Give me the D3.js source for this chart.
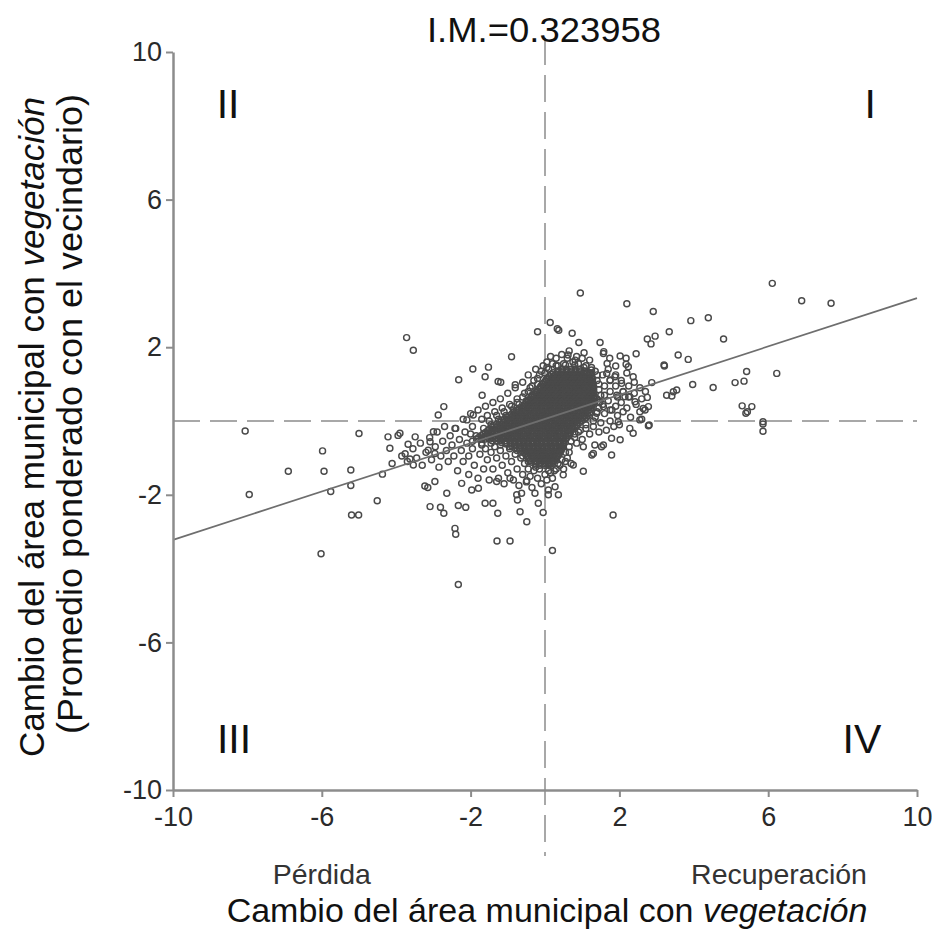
<!DOCTYPE html>
<html><head><meta charset="utf-8">
<script src="https://cdn.jsdelivr.net/npm/d3@7"></script>
<style>
body{margin:0;background:#fff}
svg{display:block}
text{font-family:"Liberation Sans",Arial,Helvetica,sans-serif}
</style>
</head><body>
<svg id="c" width="932" height="940"></svg>
<script>
// ---- data ----
const xTicks = [-10, -6, -2, 2, 6, 10];
const yTicks = [10, 6, 2, -2, -6, -10];
const chartTitle = "I.M.=0.323958";
const quadrantLabels = [["II", -8.52, 8.2], ["I", 8.74, 8.2], ["III", -8.36, -9.0], ["IV", 8.52, -9.0]];
const trendX = [-10, 10];
const trendY = [-3.22, 3.33];

// isolated / readable points
const outliers = [
[-3.72,2.26],[-3.54,1.92],[-8.06,-0.27],[-5.0,-0.34],[-4.22,-0.43],[-3.95,-0.39],[-3.49,-0.43],[-5.98,-0.81],
[-4.17,-0.74],[-3.68,-0.63],[-3.76,-0.89],[-3.63,-1.03],[-4.11,-1.15],[-3.54,-1.19],[-6.9,-1.36],[-5.94,-1.36],
[-5.22,-1.33],[-4.37,-1.44],[-7.95,-1.99],[-5.76,-1.91],[-5.22,-1.75],[-4.51,-2.16],[-5.2,-2.55],[-5.01,-2.55],
[-6.02,-3.6],[-3.23,-1.76],[-3.15,-1.8],[-3.09,-2.32],[-2.33,-4.43],[-3.9,-0.33],
[-2.72,0.39],[-2.87,0.16],[-3.0,-0.29],[-3.09,-0.56],[-3.14,-0.79],[-2.96,-0.88],[-2.96,-1.64],[-2.64,-1.96],
[-2.42,-0.2],[-2.1,0.03],[-1.93,0.16],
[6.11,3.73],[6.9,3.26],[7.69,3.19],[2.91,2.97],[3.92,2.72],[4.39,2.8],[3.34,2.42],[2.75,2.22],[2.96,2.3],
[2.85,2.09],[4.8,2.22],[3.58,1.79],[3.85,1.67],[3.21,1.49],[2.87,1.04],[5.42,1.34],[5.35,1.08],[5.11,1.04],
[6.23,1.29],[3.97,0.99],[4.52,0.91],[3.27,0.7],[3.41,0.68],[3.54,0.84],[3.45,0.79],[5.3,0.41],[5.56,0.39],
[5.4,0.21],[5.44,0.25],[5.86,-0.02],[5.86,-0.08],[5.86,-0.28],[2.75,0.64],[2.78,0.39],[2.69,0.3],[2.6,0.05],
[2.78,-0.13],
[1.48,2.13],[1.57,1.83],[2.02,1.76],[2.18,1.7],[2.45,1.82],[1.67,1.56],[1.9,1.49],[2.18,1.54],[3.2,1.52],
[2.37,1.2],[2.06,1.02],[1.66,1.29],[1.75,1.11],[1.88,1.2],[2.64,0.34],[2.42,0.52],[2.28,0.66],[2.1,0.79],
[2.15,0.66],[1.93,0.7],[2.55,0.03],[2.8,-0.11],[1.97,-0.02],[2.28,-0.2],[2.37,-0.33],[1.79,-0.47],[2.02,-0.51],
[1.57,-0.65],[1.34,-0.65],[1.3,-0.88],[1.75,0.3],[1.57,0.39],[1.39,0.21],[1.48,0.52],[1.3,0.52],
[0.95,3.47],[2.2,3.18],[0.14,2.67],[0.37,2.46],[0.33,2.5],[-0.2,2.42],[0.73,2.38],[0.91,2.13],
[-0.9,1.74],[-1.94,1.41],[-1.52,1.46],[-1.61,1.2],[-2.32,1.12],[-1.19,1.05],[-0.8,0.98],[-1.69,0.7],
[-1.26,1.07],[0.62,1.79],[0.81,1.65],[1.58,1.88],[1.74,1.7],[2.24,1.47],
[1.03,-1.36],[1.83,-2.55],[0.2,-3.51],[-1.29,-3.25],[-0.94,-3.25],[-2.42,-2.91],[-2.4,-3.07],
[-2.81,-2.34],[-2.72,-2.5],[-2.33,-2.29],[-2.13,-2.34],[-1.61,-2.23],[-1.4,-2.23],[-1.27,-2.5],
[-0.67,-2.46],[-0.49,-2.73],[-0.18,-2.23],[-0.05,-2.48],[-0.74,-2.14],[-0.76,-2.0],[-0.63,-1.96],
[-0.27,-1.96],[0.09,-2.0],[0.09,-1.87],[0.27,-1.78],[0.36,-2.0],[-0.49,-1.62],[-0.94,-1.55],[-1.3,-1.64],
[0.49,-1.46],[0.76,-1.19],[-2.24,-1.69],[-1.97,-1.87],[-1.79,-1.82],
[1.52,-0.7],[1.79,-0.92],[1.03,-0.7],[1.26,-0.92]
];

// moderately dense ring of points around the core
const halo = [
[-3.85,-0.95],[-3.7,-1.1],[-3.55,-0.75],[-3.45,-1.0],[-3.35,-0.6],[-3.3,-1.2],[-3.2,-0.85],[-3.1,-0.45],
[-3.05,-1.05],[-2.95,-0.7],[-2.9,-0.3],[-2.85,-1.25],[-2.8,-0.95],[-2.75,-0.55],[-2.7,-0.15],[-2.65,-0.8],
[-2.6,-1.1],[-2.55,-0.4],[-2.5,-0.65],[-2.45,-0.95],[-2.4,-0.2],[-2.35,-1.35],[-2.3,-0.5],[-2.25,-0.8],
[-2.2,-1.1],[-2.2,0.05],[-2.15,-0.3],[-2.1,-0.6],[-2.05,-1.45],[-2.05,-0.95],[-2.0,0.2],[-1.95,-0.15],
[-1.95,-0.75],[-1.9,-1.2],[-1.85,-0.4],[-1.8,0.3],[-1.8,-1.55],[-1.75,-0.9],[-1.7,0.05],[-1.7,-0.65],
[-1.65,-1.3],
[-1.6,-0.75],[-1.55,-1.05],[-1.5,-1.6],[-1.45,-0.85],[-1.4,-1.3],[-1.35,-0.7],[-1.3,-1.0],[-1.25,-1.55],
[-1.2,-0.8],[-1.15,-1.2],[-1.1,-1.7],[-1.05,-0.95],[-1.0,-1.4],[-0.95,-0.75],[-0.9,-1.1],[-0.85,-1.6],
[-0.8,-0.9],[-0.75,-1.3],[-0.7,-1.75],[-0.65,-1.0],[-0.6,-1.45],[-0.55,-1.15],[-0.5,-1.65],[-0.45,-1.3],
[-0.4,-1.5],[-0.35,-1.8],[-0.3,-1.35],[-0.2,-1.55],[-0.15,-1.3],[-0.1,-1.7],[0.0,-1.45],[0.05,-1.6],
[0.15,-1.4],[0.2,-1.55],[0.3,-1.3],[0.35,-1.15],[0.45,-1.05],[0.5,-1.3],[0.55,-0.85],[0.6,-1.0],
[0.65,-0.7],[0.7,-1.15],
[-1.6,0.4],[-1.55,0.15],[-1.45,-0.1],[-1.4,0.5],[-1.35,0.25],[-1.25,0.05],[-1.2,0.6],[-1.15,0.35],
[-1.05,0.15],[-1.0,0.75],[-0.95,0.45],[-0.85,0.3],[-0.8,0.9],[-0.75,0.6],[-0.7,0.45],[-0.6,1.05],
[-0.55,0.75],[-0.5,0.55],[-0.45,1.25],[-0.4,0.9],[-0.35,0.7],[-0.3,1.1],[-0.25,1.4],[-0.2,1.0],
[-0.15,1.25],[-0.05,1.5],[0.0,1.3],[0.05,1.6],[0.1,1.4],[0.2,1.55],[0.15,1.75],[0.3,1.7],
[0.35,1.5],[0.45,1.8],[0.5,1.55],[0.6,1.7],[0.65,1.9],[0.75,1.6],[0.85,1.75],[0.9,1.55],
[1.0,1.7],[1.05,1.85],[1.1,1.5],[1.2,1.65],[1.25,1.45],
[1.35,1.35],[1.4,1.1],[1.45,0.85],[1.4,0.6],[1.45,0.35],[1.35,0.1],[1.3,-0.15],[1.2,-0.35],
[1.1,-0.2],[1.0,-0.5],[0.9,-0.3],[0.85,-0.6],[0.8,-0.45],[1.55,1.25],[1.6,0.95],[1.6,0.7],
[1.55,0.45],[1.6,0.2],[1.5,-0.05],[1.45,-0.3],[1.7,1.4],[1.75,1.1],[1.75,0.8],[1.7,0.55],
[1.8,0.3],[1.75,0.0],[1.65,-0.25],[1.9,1.25],[1.9,0.95],[1.95,0.65],[1.9,0.4],[1.95,0.15],
[1.85,-0.15],[2.05,1.1],[2.1,0.8],[2.05,0.5],[2.1,0.25],[2.0,-0.1],[2.2,1.3],[2.25,0.95],
[2.25,0.65],[2.2,0.35],[2.3,0.1],[2.4,1.05],[2.4,0.75],[2.45,0.45],[2.55,0.9],[2.6,0.6],
[2.55,0.25],[2.7,0.8]
];

// points hugging the edge of the solid core
const haloInner = [
[-1.5,0.0],[-1.3,0.15],[-1.1,0.25],[-0.9,0.4],[-0.75,0.5],[-0.6,0.65],[-0.45,0.8],[-0.35,0.95],
[-0.2,1.15],[-0.1,1.35],[0.05,1.45],[-1.65,-0.2],[-1.0,0.05],[-0.8,0.2],
[1.4,1.25],[1.45,1.0],[1.5,0.7],[1.45,0.5],[1.4,0.25],[1.3,0.0],[1.1,-0.1],[0.95,-0.25],
[0.8,-0.35],[0.7,-0.55],[0.65,-0.85],[0.55,-1.1],[0.4,-1.2],[0.25,-1.35],[0.1,-1.35],
[-0.25,-1.25],[-0.45,-1.1],[-0.6,-0.95],[-0.75,-0.8],[-0.95,-0.7],[-1.2,-0.65],[-1.45,-0.6],
[-1.7,-0.6],[-1.95,-0.55],[-2.0,-0.35],
[0.3,1.5],[0.55,1.52],[0.8,1.52],[1.05,1.45],[1.25,1.38]
];

// solid core: rows of heavily overlapping points [y, [x...]]
const coreRows = [
[1.40,[0.46,0.57,0.70,0.81,0.93]],
[1.355,[0.35,0.47,0.59,0.71,0.83,0.95,1.07]],
[1.31,[0.22,0.34,0.45,0.58,0.69,0.80,0.93,1.04,1.14,1.23]],
[1.265,[0.17,0.29,0.41,0.53,0.65,0.77,0.89,1.00,1.12,1.22]],
[1.22,[0.12,0.23,0.36,0.48,0.59,0.70,0.83,0.95,1.06,1.17,1.26]],
[1.175,[0.08,0.20,0.32,0.44,0.56,0.68,0.80,0.92,1.04,1.16,1.25]],
[1.13,[0.04,0.17,0.28,0.40,0.51,0.64,0.75,0.86,0.99,1.10,1.21,1.28]],
[1.085,[0.01,0.13,0.25,0.37,0.49,0.61,0.73,0.85,0.97,1.09,1.21,1.27]],
[1.04,[-0.03,0.09,0.22,0.33,0.45,0.56,0.69,0.80,0.93,1.04,1.15,1.27]],
[0.995,[-0.07,0.05,0.17,0.29,0.41,0.53,0.65,0.77,0.89,1.01,1.13,1.25]],
[0.95,[-0.11,0.02,0.13,0.24,0.37,0.49,0.60,0.72,0.85,0.96,1.07,1.19,1.29]],
[0.905,[-0.14,-0.02,0.10,0.22,0.34,0.46,0.58,0.70,0.82,0.94,1.06,1.18,1.28]],
[0.86,[-0.17,-0.05,0.06,0.19,0.31,0.42,0.55,0.67,0.79,0.90,1.03,1.14,1.25,1.31]],
[0.815,[-0.21,-0.09,0.03,0.15,0.27,0.39,0.51,0.63,0.75,0.87,0.99,1.11,1.23,1.30]],
[0.77,[-0.25,-0.12,-0.01,0.11,0.24,0.35,0.47,0.58,0.71,0.83,0.94,1.07,1.18,1.31]],
[0.725,[-0.29,-0.17,-0.05,0.07,0.19,0.31,0.43,0.55,0.67,0.79,0.91,1.03,1.15,1.27]],
[0.68,[-0.33,-0.21,-0.08,0.03,0.15,0.28,0.39,0.51,0.62,0.75,0.87,0.98,1.11,1.22,1.32]],
[0.635,[-0.37,-0.25,-0.13,-0.01,0.11,0.23,0.35,0.47,0.59,0.71,0.83,0.95,1.07,1.19,1.30]],
[0.59,[-0.41,-0.28,-0.17,-0.05,0.08,0.19,0.30,0.43,0.55,0.66,0.79,0.91,1.02,1.15,1.26,1.33]],
[0.545,[-0.45,-0.33,-0.21,-0.09,0.03,0.15,0.27,0.39,0.51,0.63,0.75,0.87,0.99,1.11,1.23,1.31]],
[0.50,[-0.50,-0.38,-0.25,-0.14,-0.02,0.11,0.22,0.34,0.45,0.58,0.70,0.81,0.94,1.06,1.17,1.30]],
[0.455,[-0.54,-0.42,-0.30,-0.18,-0.06,0.06,0.18,0.30,0.42,0.54,0.66,0.78,0.90,1.02,1.14,1.26]],
[0.41,[-0.58,-0.45,-0.34,-0.22,-0.09,0.02,0.14,0.27,0.38,0.50,0.61,0.74,0.86,0.97,1.10,1.21,1.27]],
[0.365,[-0.64,-0.52,-0.40,-0.28,-0.16,-0.04,0.08,0.20,0.32,0.44,0.56,0.68,0.80,0.92,1.04,1.16,1.24]],
[0.32,[-0.70,-0.58,-0.45,-0.34,-0.22,-0.10,0.03,0.14,0.25,0.38,0.50,0.61,0.74,0.86,0.97,1.10,1.22]],
[0.275,[-0.76,-0.64,-0.52,-0.40,-0.28,-0.16,-0.04,0.08,0.20,0.32,0.44,0.56,0.68,0.80,0.92,1.04,1.16]],
[0.23,[-0.83,-0.70,-0.59,-0.47,-0.34,-0.23,-0.11,0.02,0.13,0.24,0.37,0.49,0.60,0.73,0.85,0.96,1.09,1.20]],
[0.185,[-0.90,-0.78,-0.66,-0.54,-0.42,-0.30,-0.18,-0.06,0.06,0.18,0.30,0.42,0.54,0.66,0.78,0.90,1.02,1.13]],
[0.14,[-0.97,-0.84,-0.73,-0.61,-0.48,-0.37,-0.25,-0.12,-0.01,0.11,0.24,0.35,0.46,0.59,0.71,0.82,0.95,1.07,1.16]],
[0.095,[-1.03,-0.91,-0.79,-0.67,-0.55,-0.43,-0.31,-0.19,-0.07,0.05,0.17,0.29,0.41,0.53,0.65,0.77,0.89,1.01,1.11]],
[0.05,[-1.10,-0.98,-0.85,-0.74,-0.62,-0.49,-0.38,-0.26,-0.13,-0.02,0.10,0.23,0.34,0.46,0.58,0.71,0.82,0.94,1.06]],
[0.005,[-1.17,-1.05,-0.93,-0.81,-0.69,-0.57,-0.45,-0.33,-0.21,-0.09,0.03,0.15,0.27,0.39,0.51,0.63,0.75,0.87,0.99]],
[-0.04,[-1.23,-1.11,-0.98,-0.87,-0.75,-0.62,-0.51,-0.39,-0.26,-0.15,-0.03,0.10,0.21,0.33,0.45,0.58,0.69,0.81,0.93]],
[-0.085,[-1.30,-1.18,-1.06,-0.94,-0.82,-0.70,-0.58,-0.46,-0.34,-0.22,-0.10,0.02,0.14,0.26,0.38,0.50,0.62,0.74,0.86]],
[-0.13,[-1.37,-1.24,-1.13,-1.01,-0.88,-0.77,-0.65,-0.52,-0.41,-0.29,-0.16,-0.05,0.07,0.20,0.31,0.43,0.56,0.67,0.79,0.86]],
[-0.175,[-1.43,-1.31,-1.19,-1.07,-0.95,-0.83,-0.71,-0.59,-0.47,-0.35,-0.23,-0.11,0.01,0.13,0.25,0.37,0.49,0.61,0.73]],
[-0.22,[-1.49,-1.37,-1.24,-1.13,-1.01,-0.88,-0.77,-0.65,-0.52,-0.41,-0.29,-0.16,-0.05,0.08,0.19,0.31,0.44,0.55,0.67,0.75]],
[-0.265,[-1.54,-1.42,-1.30,-1.18,-1.06,-0.94,-0.82,-0.70,-0.58,-0.46,-0.34,-0.22,-0.10,0.02,0.14,0.26,0.38,0.50,0.62,0.70]],
[-0.31,[-1.60,-1.47,-1.36,-1.24,-1.11,-1.00,-0.88,-0.75,-0.64,-0.52,-0.39,-0.28,-0.16,-0.03,0.08,0.20,0.33,0.44,0.56,0.68]],
[-0.355,[-1.66,-1.54,-1.42,-1.30,-1.18,-1.06,-0.94,-0.82,-0.70,-0.58,-0.46,-0.34,-0.22,-0.10,0.02,0.14,0.26,0.38,0.50,0.62]],
[-0.40,[-1.72,-1.60,-1.47,-1.36,-1.24,-1.11,-1.00,-0.88,-0.75,-0.64,-0.52,-0.39,-0.28,-0.16,-0.03,0.08,0.20,0.33,0.44,0.56,0.63]],
[-0.445,[-1.78,-1.66,-1.54,-1.42,-1.30,-1.18,-1.06,-0.94,-0.82,-0.70,-0.58,-0.46,-0.34,-0.22,-0.10,0.02,0.14,0.26,0.38,0.50,0.59]],
[-0.49,[-1.84,-1.71,-1.60,-1.48,-1.35,-1.24,-1.12,-0.99,-0.88,-0.76,-0.63,-0.52,-0.40,-0.27,-0.16,-0.04,0.09,0.20,0.32,0.45,0.56]],
[-0.535,[-1.42,-1.30,-1.18,-1.06,-0.94,-0.82,-0.70,-0.58,-0.46,-0.34,-0.22,-0.10,0.02,0.14,0.26,0.38,0.50]],
[-0.58,[-1.17,-1.04,-0.93,-0.81,-0.68,-0.57,-0.45,-0.32,-0.21,-0.09,0.04,0.15,0.27,0.40,0.51]],
[-0.625,[-1.04,-0.92,-0.80,-0.68,-0.56,-0.44,-0.32,-0.20,-0.08,0.04,0.16,0.28,0.40,0.50]],
[-0.67,[-0.90,-0.78,-0.65,-0.54,-0.42,-0.29,-0.18,-0.06,0.07,0.18,0.30,0.43,0.49]],
[-0.715,[-0.80,-0.68,-0.56,-0.44,-0.32,-0.20,-0.08,0.04,0.16,0.28,0.40,0.47]],
[-0.76,[-0.68,-0.55,-0.44,-0.32,-0.19,-0.08,0.04,0.17,0.28,0.40,0.45]],
[-0.805,[-0.62,-0.50,-0.38,-0.26,-0.14,-0.02,0.10,0.22,0.34,0.43]],
[-0.85,[-0.56,-0.43,-0.32,-0.20,-0.07,0.04,0.16,0.29,0.40]],
[-0.895,[-0.52,-0.40,-0.28,-0.16,-0.04,0.08,0.20,0.32,0.38]],
[-0.94,[-0.49,-0.37,-0.24,-0.13,-0.01,0.12,0.23,0.35]],
[-0.985,[-0.45,-0.33,-0.21,-0.09,0.03,0.15,0.27,0.32]],
[-1.03,[-0.42,-0.29,-0.18,-0.06,0.07,0.18,0.29]],
[-1.075,[-0.39,-0.27,-0.15,-0.03,0.09,0.21,0.25]],
[-1.12,[-0.36,-0.23,-0.12,0.00,0.13,0.20]],
[-1.16,[-0.26,-0.14,-0.02,0.10,0.17]],
[-1.20,[-0.14,-0.01,0.10]]
];

// ---- drawing ----
const svg = d3.select("#c");
const x = d3.scaleLinear().domain([-10, 10]).range([173, 917]);
const y = d3.scaleLinear().domain([-10, 10]).range([790, 52]);

const corePts = coreRows.flatMap(([yy, xs]) => xs.map(xx => [xx, yy]));
const allPts = outliers.concat(halo, haloInner, corePts);

const dashCol = "#a8a8a8";
// reference dashed lines at zero
svg.append("line").attr("x1", x(0)).attr("x2", x(0)).attr("y1", 38).attr("y2", 856)
  .attr("stroke", dashCol).attr("stroke-width", 2).attr("stroke-dasharray", "27,10");
svg.append("line").attr("x1", x(-10)).attr("x2", x(10)).attr("y1", y(0)).attr("y2", y(0))
  .attr("stroke", dashCol).attr("stroke-width", 2).attr("stroke-dasharray", "27,10");

// points
svg.append("g").selectAll("circle").data(allPts).join("circle")
  .attr("cx", d => x(d[0])).attr("cy", d => y(d[1])).attr("r", 3.0)
  .attr("fill", "none").attr("stroke", "#4a4a4a").attr("stroke-width", 1.45);

// trend line
svg.append("line").attr("x1", x(trendX[0])).attr("y1", y(trendY[0]))
  .attr("x2", x(trendX[1])).attr("y2", y(trendY[1]))
  .attr("stroke", "#6e6e6e").attr("stroke-width", 1.7);

// axes
const axCol = "#8c8c8c";
const gy = svg.append("g").attr("transform", `translate(${x(-10)},0)`)
  .call(d3.axisLeft(y).tickValues(yTicks).tickSize(7).tickSizeOuter(0).tickPadding(4).tickFormat(d3.format("d")));
const gx = svg.append("g").attr("transform", `translate(0,${y(-10)})`)
  .call(d3.axisBottom(x).tickValues(xTicks).tickSize(7).tickSizeOuter(0).tickPadding(10).tickFormat(d3.format("d")));
[gx, gy].forEach(g => {
  g.select(".domain").attr("stroke", axCol).attr("stroke-width", 2.5);
  g.selectAll(".tick line").attr("stroke", axCol).attr("stroke-width", 2);
  g.selectAll(".tick text").attr("font-size", 27).attr("fill", "#2a2a2a")
    .attr("font-family", "'Liberation Sans', Arial, sans-serif");
});
gy.selectAll(".tick text").text(d => d < 0 ? "-" + Math.abs(d) : d);
gx.selectAll(".tick text").text(d => d < 0 ? "-" + Math.abs(d) : d);

// title
svg.append("text").attr("x", 544).attr("y", 42).attr("text-anchor", "middle")
  .attr("font-size", 35).attr("textLength", 234).attr("lengthAdjust", "spacingAndGlyphs")
  .attr("fill", "#111").text(chartTitle);

// quadrant labels
svg.append("g").selectAll("text").data(quadrantLabels).join("text")
  .attr("x", d => x(d[1])).attr("y", d => y(d[2])).attr("text-anchor", "middle")
  .attr("font-size", 41).attr("fill", "#111").text(d => d[0]);

// side labels
svg.append("text").attr("x", x(-6)).attr("y", 884).attr("text-anchor", "middle")
  .attr("font-size", 28.5).attr("fill", "#333").text("Pérdida");
svg.append("text").attr("x", 779).attr("y", 884).attr("text-anchor", "middle")
  .attr("font-size", 28.5).attr("fill", "#333").text("Recuperación");

// x title
const xt = svg.append("text").attr("x", 547).attr("y", 922).attr("text-anchor", "middle")
  .attr("font-size", 34).attr("fill", "#111");
xt.append("tspan").text("Cambio del área municipal con ");
xt.append("tspan").attr("font-style", "italic").text("vegetación");

// y title (two lines)
const yt1 = svg.append("text").attr("transform", "translate(44,427) rotate(-90)")
  .attr("text-anchor", "middle").attr("font-size", 34.5).attr("fill", "#111")
  .attr("textLength", 660).attr("lengthAdjust", "spacingAndGlyphs");
yt1.append("tspan").text("Cambio del área municipal con ");
yt1.append("tspan").attr("font-style", "italic").text("vegetación");
svg.append("text").attr("transform", "translate(82,414) rotate(-90)")
  .attr("text-anchor", "middle").attr("font-size", 34.5).attr("fill", "#111")
  .attr("textLength", 640).attr("lengthAdjust", "spacingAndGlyphs")
  .text("(Promedio ponderado con el vecindario)");
</script>
</body></html>
